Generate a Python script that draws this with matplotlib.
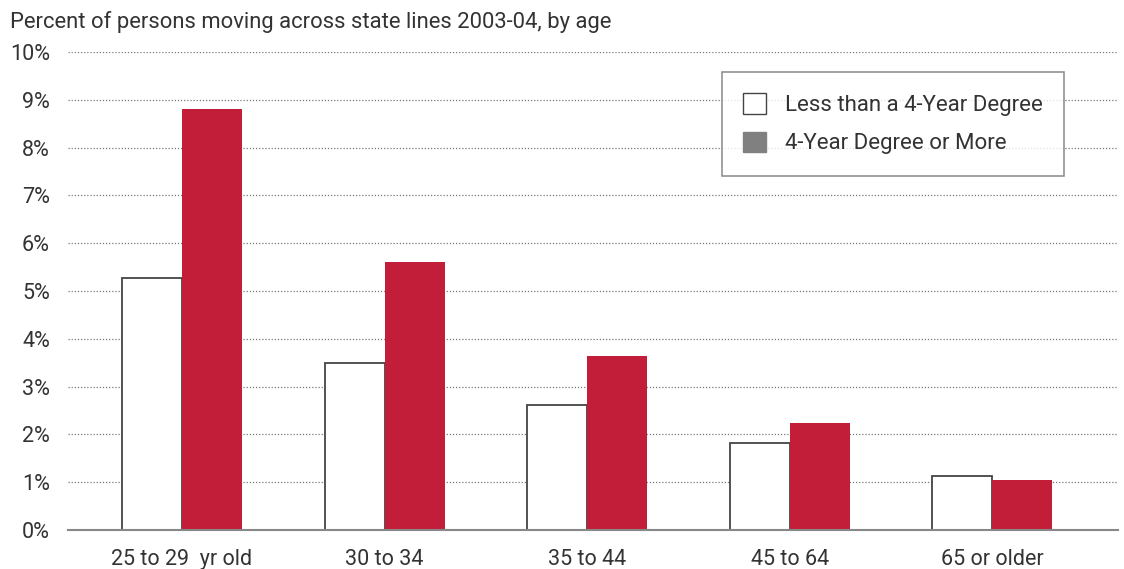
import matplotlib
matplotlib.use("Agg")
import matplotlib.pyplot as plt
import numpy as np
from matplotlib.patches import Patch

plt.rcParams["font.family"] = ["Roboto", "DejaVu Sans"]

# data
ages = ["25 to 29  yr old", "30 to 34", "35 to 44", "45 to 64", "65 or older"]
less_than_4yr = [5.27, 3.49, 2.62, 1.82, 1.13]
four_yr_or_more = [8.81, 5.61, 3.64, 2.24, 1.05]
yticks = [0, 1, 2, 3, 4, 5, 6, 7, 8, 9, 10]

red = "#C31E39"
txt = "#333333"
fs = 15.5

fig = plt.figure(figsize=(11.24, 5.69), dpi=100)
ax = fig.add_axes([68 / 1124, 1 - 530 / 569, (1118 - 68) / 1124, (530 - 52) / 569])

x = np.arange(len(ages))
w = 0.296
ax.bar(x - w / 2, less_than_4yr, w, color="white", edgecolor="#444444", linewidth=1.3, zorder=3)
ax.bar(x + w / 2, four_yr_or_more, w, color=red, edgecolor=red, linewidth=0, zorder=3)

ax.set_xlim(-0.563, 4.62)
ax.set_ylim(0, 10)
ax.set_yticks(yticks)
ax.set_yticklabels([f"{v}%" for v in yticks])
ax.set_xticks(x)
ax.set_xticklabels(ages)
ax.tick_params(axis="y", length=0, pad=13, labelsize=fs, labelcolor=txt)
ax.tick_params(axis="x", length=0, pad=14, labelsize=fs, labelcolor=txt)

ax.yaxis.grid(True, linestyle=(0, (1, 1.5)), color="#777777", linewidth=0.9, zorder=0)
for s in ["left", "right", "top"]:
    ax.spines[s].set_visible(False)
ax.spines["bottom"].set_color("#888888")
ax.spines["bottom"].set_linewidth(1.5)
ax.spines["bottom"].set_zorder(4)

handles = [Patch(facecolor="white", edgecolor="#444444", linewidth=1.0, label="Less than a 4-Year Degree"),
           Patch(facecolor="#808080", edgecolor="#808080", label="4-Year Degree or More")]
leg = ax.legend(handles=handles, loc="upper left", bbox_to_anchor=((722 - 68) / 1050, 1 - (72 - 52) / 478),
                fontsize=16, frameon=True, fancybox=False, edgecolor="#777777",
                handlelength=1.05, handleheight=1.05, handletextpad=0.85, borderpad=0.95,
                labelspacing=0.7, borderaxespad=0)
leg.get_frame().set_linewidth(1.2)
for t in leg.get_texts():
    t.set_color(txt)

fig.text(10 / 1124, 1 - 22 / 569, "Percent of persons moving across state lines 2003-04, by age",
         fontsize=15.8, color=txt, va="center", ha="left")

fig.savefig("out.png", dpi=100)
